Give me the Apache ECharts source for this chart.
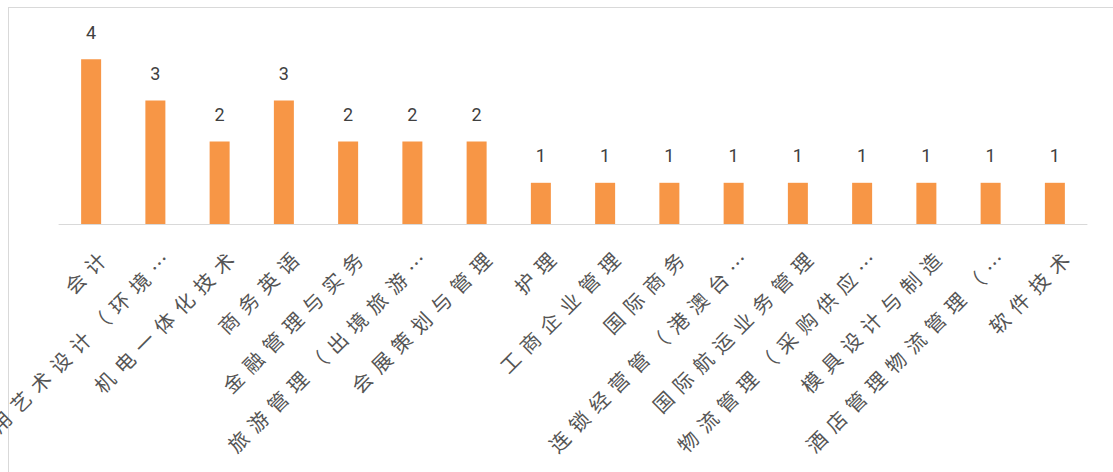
<!DOCTYPE html>
<html>
<head>
<meta charset="utf-8">
<script src="https://cdn.jsdelivr.net/npm/echarts@6/dist/echarts.min.js"></script>
<style>
  html, body { margin: 0; padding: 0; background: #fff; }
  #frame { position: absolute; left: 8px; top: 7px; width: 1105px; height: 465px; border-left: 1px solid #d9d9d9; border-top: 1px solid #d9d9d9; }
  #chart { position: absolute; left: 0; top: 0; width: 1113px; height: 472px; }
  /* category names in the original are widely spaced */
  #chart svg text[transform^="matrix"] { letter-spacing: 8px; }
</style>
</head>
<body>
<div id="frame"></div>
<div id="chart"></div>
<script>
// majors and counts
var majors = [
  '会计',
  '应用艺术设计（环境…',
  '机电一体化技术',
  '商务英语',
  '金融管理与实务',
  '旅游管理（出境旅游…',
  '会展策划与管理',
  '护理',
  '工商企业管理',
  '国际商务',
  '连锁经营管（港澳台…',
  '国际航运业务管理',
  '物流管理（采购供应…',
  '模具设计与制造',
  '酒店管理物流管理（…',
  '软件技术'
]
var counts = [4, 3, 2, 3, 2, 2, 2, 1, 1, 1, 1, 1, 1, 1, 1, 1]

var chart = echarts.init(document.getElementById('chart'), null, { renderer: 'svg' })
chart.setOption({
  animation: false,
  grid: {
    left: 59,
    right: 26,
    top: 18,
    bottom: 248
  },
  xAxis: {
    type: 'category',
    data: majors,
    axisTick: { show: false },
    axisLine: {
      lineStyle: { color: '#d9d9d9' }
    },
    axisLabel: {
      interval: 0,
      rotate: 45,
      margin: 10,
      verticalAlign: 'top',
      lineHeight: 46,
      color: '#555555',
      fontSize: 20,
      fontFamily: 'Noto Sans CJK SC'
    }
  },
  yAxis: {
    type: 'value',
    min: 0,
    max: 5,
    show: false
  },
  series: [
    {
      type: 'bar',
      data: counts,
      barWidth: 20,
      itemStyle: { color: '#f79646' },
      label: {
        show: true,
        position: 'top',
        distance: 18,
        color: '#404040',
        fontSize: 18,
        fontFamily: 'Roboto'
      }
    }
  ]
})
</script>
</body>
</html>
